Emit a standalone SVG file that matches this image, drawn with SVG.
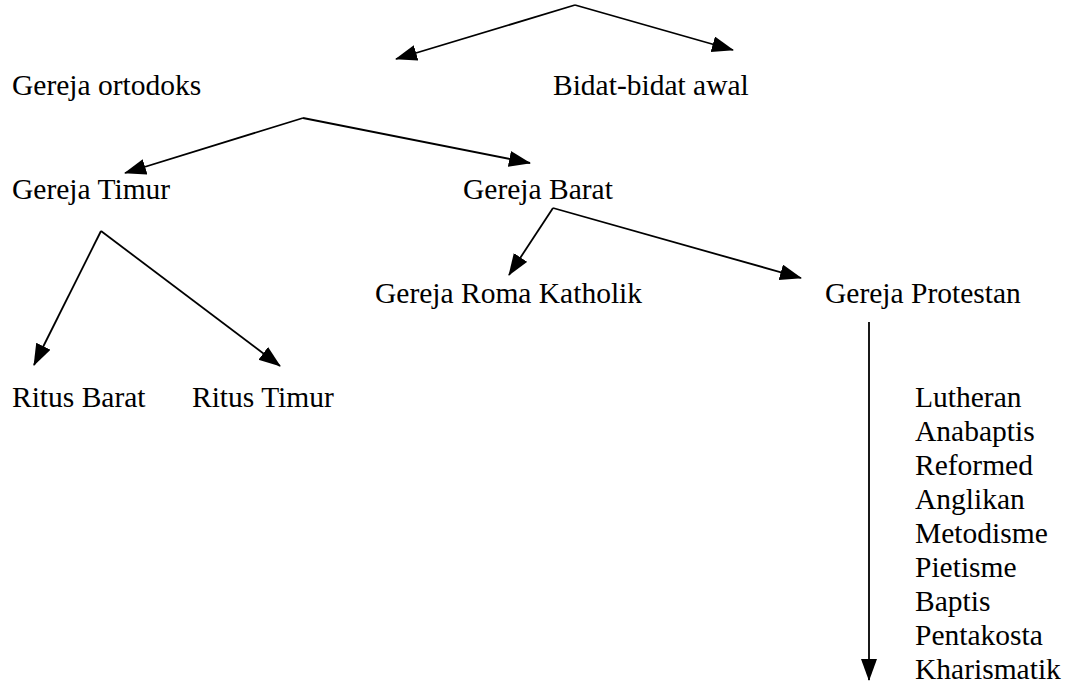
<svg xmlns="http://www.w3.org/2000/svg" width="1067" height="688" viewBox="0 0 1067 688">
<style>
  .t { font-family: "Liberation Serif", "Times New Roman", serif; font-size: 29.5px; fill: #000; }
  .c { stroke: #000; stroke-width: 1.8; fill: none; marker-end: url(#ah); }
</style>
<defs>
  <marker id="ah" markerUnits="userSpaceOnUse" markerWidth="26" markerHeight="20" refX="21" refY="8" orient="auto">
    <path d="M0,0 L22,8 L0,16 z" fill="#000"/>
  </marker>
</defs>
<rect width="1067" height="688" fill="#fff"/>
<g id="connectors">
  <line class="c" x1="575" y1="5" x2="396" y2="59"/>
  <line class="c" x1="575" y1="5" x2="733" y2="50"/>
  <line class="c" x1="303" y1="118" x2="125" y2="173"/>
  <line class="c" x1="303" y1="118" x2="530" y2="163"/>
  <line class="c" x1="553" y1="208" x2="509" y2="275"/>
  <line class="c" x1="553" y1="208" x2="801" y2="278"/>
  <line class="c" x1="101" y1="231" x2="34" y2="365"/>
  <line class="c" x1="101" y1="231" x2="280" y2="366"/>
  <line class="c" x1="869" y1="322" x2="869" y2="680"/>
</g>
<g id="gereja-ortodoks"><text class="t" x="12" y="95">Gereja ortodoks</text></g>
<g id="bidat-bidat-awal"><text class="t" x="553" y="95">Bidat-bidat awal</text></g>
<g id="gereja-timur"><text class="t" x="12" y="199">Gereja Timur</text></g>
<g id="gereja-barat"><text class="t" x="463" y="199">Gereja Barat</text></g>
<g id="gereja-roma-katholik"><text class="t" x="375" y="303">Gereja Roma Katholik</text></g>
<g id="gereja-protestan"><text class="t" x="825" y="303">Gereja Protestan</text></g>
<g id="ritus-barat"><text class="t" x="12" y="407">Ritus Barat</text></g>
<g id="ritus-timur"><text class="t" x="192" y="407">Ritus Timur</text></g>
<g id="protestan-list">
  <text class="t" x="915" y="407">Lutheran</text>
  <text class="t" x="915" y="441">Anabaptis</text>
  <text class="t" x="915" y="475">Reformed</text>
  <text class="t" x="915" y="509">Anglikan</text>
  <text class="t" x="915" y="543">Metodisme</text>
  <text class="t" x="915" y="577">Pietisme</text>
  <text class="t" x="915" y="611">Baptis</text>
  <text class="t" x="915" y="645">Pentakosta</text>
  <text class="t" x="915" y="679">Kharismatik</text>
</g>
</svg>
